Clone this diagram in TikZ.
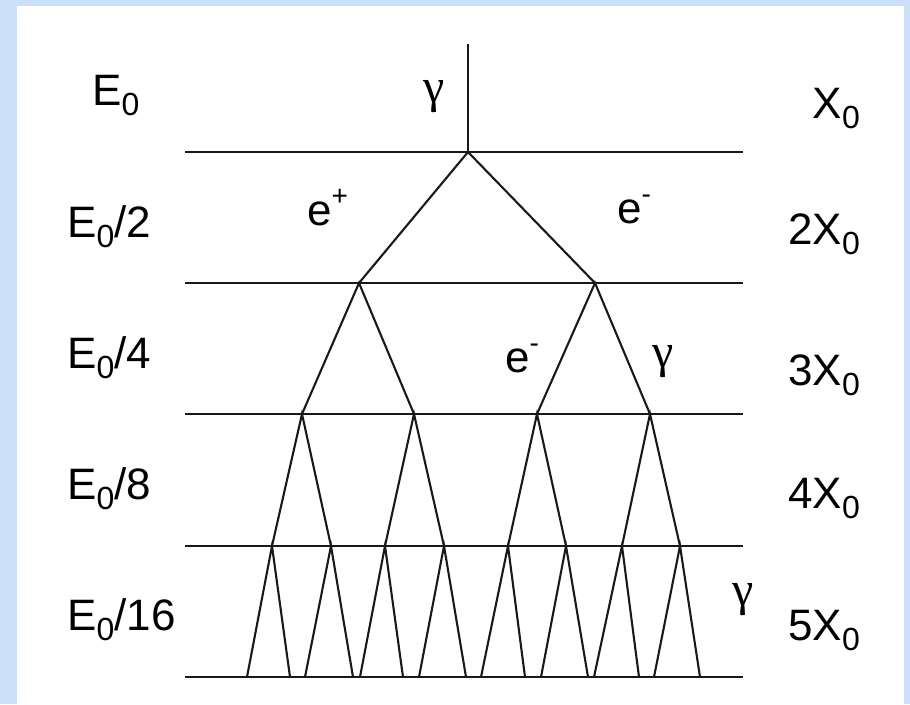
\documentclass[tikz,border=0pt]{standalone}
\usepackage{fontspec}
\setmainfont{Liberation Sans}
\newfontfamily\greekfont{Liberation Serif}
\definecolor{bgblue}{RGB}{204,224,250}
\newcommand{\lowsub}[1]{\raisebox{-10pt}{\fontsize{32}{32}\selectfont #1}}
\newcommand{\highsup}[1]{\raisebox{20pt}{\fontsize{28}{28}\selectfont #1}}
\begin{document}
\begin{tikzpicture}[x=1pt,y=-1pt,
  lbl/.style={inner sep=0pt,font=\fontsize{44}{50}\selectfont},
  gam/.style={inner sep=0pt,font=\greekfont\fontsize{48}{54}\selectfont},
  trk/.style={line width=2.1pt,black!90},
  lvl/.style={line width=2.3pt,black!90}]
\useasboundingbox (0,0) rectangle (910,704);
\fill[bgblue] (0,0) rectangle (910,704);
\fill[white] (17,6) rectangle (904,704);
% horizontal levels
\foreach \i/\y in {1/152,2/283,3/414,4/546,5/677}{
  \coordinate (L\i) at (185,\y);
  \coordinate (R\i) at (743,\y);
  \draw[lvl] (L\i) -- (R\i);
}
% vertices
\coordinate (t) at (468,44);
\coordinate (a) at (468,152);
\coordinate (b1) at (359,283); \coordinate (b2) at (595,283);
\coordinate (c1) at (302,414); \coordinate (c2) at (414,414);
\coordinate (c3) at (537,414); \coordinate (c4) at (650,414);
\foreach \i/\x in {1/272,2/331,3/385,4/444,5/508,6/566,7/622,8/680}{
  \coordinate (d\i) at (\x,546);
}
\foreach \i/\x in {1/247,2/290,3/305,4/353,5/360,6/403,7/419,8/466,9/481,10/525,11/541,12/588,13/594,14/639,15/654,16/700}{
  \coordinate (e\i) at (\x,677);
}
\draw[trk] (t) -- (a);
\draw[trk] (b1) -- (a) -- (b2);
\draw[trk] (c1) -- (b1) -- (c2);
\draw[trk] (c3) -- (b2) -- (c4);
\draw[trk] (d1) -- (c1) -- (d2);
\draw[trk] (d3) -- (c2) -- (d4);
\draw[trk] (d5) -- (c3) -- (d6);
\draw[trk] (d7) -- (c4) -- (d8);
\draw[trk] (e1) -- (d1) -- (e2);
\draw[trk] (e3) -- (d2) -- (e4);
\draw[trk] (e5) -- (d3) -- (e6);
\draw[trk] (e7) -- (d4) -- (e8);
\draw[trk] (e9) -- (d5) -- (e10);
\draw[trk] (e11) -- (d6) -- (e12);
\draw[trk] (e13) -- (d7) -- (e14);
\draw[trk] (e15) -- (d8) -- (e16);
% left labels
\node[lbl,anchor=base west] (E0) at (92,105) {E\lowsub{0}};
\node[lbl,anchor=base west] (E2) at (67,237) {E\lowsub{0}/2};
\node[lbl,anchor=base west] (E4) at (67,368) {E\lowsub{0}/4};
\node[lbl,anchor=base west] (E8) at (67,499) {E\lowsub{0}/8};
\node[lbl,anchor=base west] (E16) at (67,630) {E\lowsub{0}/16};
% right labels
\node[lbl,anchor=base east] (X1) at (860,118) {X\lowsub{0}};
\node[lbl,anchor=base east] (X2) at (860,244) {2X\lowsub{0}};
\node[lbl,anchor=base east] (X3) at (860,385) {3X\lowsub{0}};
\node[lbl,anchor=base east] (X4) at (860,508) {4X\lowsub{0}};
\node[lbl,anchor=base east] (X5) at (860,640) {5X\lowsub{0}};
% particle labels
\node[gam] (g1) at (434,97) {γ};
\node[lbl,anchor=base west] (ep) at (307,225) {e\highsup{+}};
\node[lbl,anchor=base west] (em1) at (617,223) {e\highsup{-}};
\node[lbl,anchor=base west] (em2) at (505,372) {e\highsup{-}};
\node[gam] (g2) at (663,362) {γ};
\node[gam] (g3) at (743,600) {γ};
\end{tikzpicture}
\end{document}
